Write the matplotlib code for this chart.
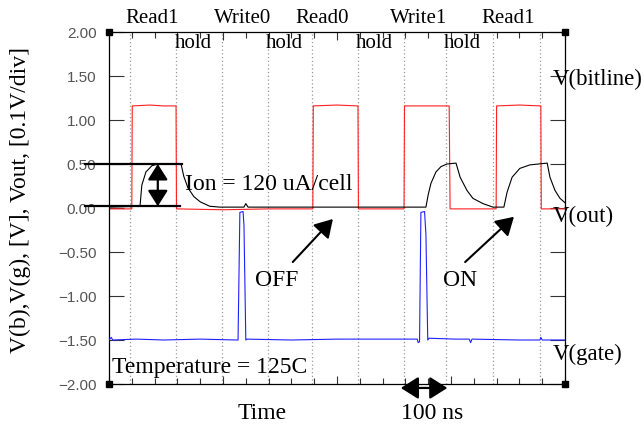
import matplotlib.pyplot as plt
from matplotlib.ticker import MultipleLocator

plt.rcParams['font.family'] = ['Liberation Serif', 'DejaVu Serif']

# bitline voltage (V) vs time (ns)
t_bitline = [0, 50, 51, 90, 120, 147, 148, 250, 350, 447, 448, 500, 546, 547,
             600, 647, 648, 700, 746, 748, 800, 849, 850, 900, 947, 948, 1000]
v_bitline = [-0.01, -0.01, 1.16, 1.17, 1.16, 1.16, -0.01, -0.02, -0.01, -0.01, 1.16, 1.17, 1.16, -0.01,
             -0.01, -0.01, 1.16, 1.16, 1.16, -0.01, -0.01, -0.01, 1.16, 1.17, 1.16, -0.01, -0.01]

# sense output
t_out = [0, 68, 72, 81, 94, 107, 158, 164, 173, 186, 200, 221, 243, 296, 300, 305,
         695, 700, 706, 717, 728, 741, 761, 770, 785, 798, 820, 842, 866,
         873, 884, 901, 923, 961, 967, 978, 989, 1000]
v_out = [0.01, 0.02, 0.26, 0.41, 0.48, 0.50, 0.50, 0.36, 0.23, 0.13, 0.07, 0.02, 0.01, 0.01, 0.05, 0.01,
         0.01, 0.15, 0.28, 0.41, 0.47, 0.50, 0.51, 0.35, 0.20, 0.11, 0.05, 0.01, 0.01,
         0.18, 0.35, 0.45, 0.49, 0.51, 0.35, 0.20, 0.11, 0.06]

# gate voltage
t_gate = [0, 5, 8, 60, 120, 200, 280, 283, 287, 294, 296, 300, 303, 400, 500, 600,
          676, 678, 681, 684, 692, 695, 699, 702, 760, 790, 793, 796, 900, 945, 947, 950, 1000]
v_gate = [-1.50, -1.47, -1.50, -1.49, -1.50, -1.49, -1.50, -1.50, -0.05, -0.04, -0.20, -1.50, -1.49, -1.50, -1.49, -1.49,
          -1.49, -1.53, -1.52, -0.05, -0.04, -0.30, -1.50, -1.48, -1.49, -1.49, -1.53, -1.49, -1.50, -1.50, -1.47, -1.50, -1.50]

# phase boundaries (ns)
t_phase = [46, 147, 248, 348, 445, 546, 647, 740, 842, 945]

phase_names = ['Read1', 'Write0', 'Read0', 'Write1', 'Read1']
phase_x = [94, 294, 467, 680, 875]
hold_x = [184, 384, 583, 774]

y_ticks = [-2.0, -1.5, -1.0, -0.5, 0.0, 0.5, 1.0, 1.5, 2.0]
y_tick_labels = ['\u22122.00', '\u22121.50', '\u22121.00', '\u22120.50', '0.00', '0.50', '1.00', '1.50', '2.00']

fig = plt.figure(figsize=(6.44, 4.28), dpi=100)
ax = fig.add_axes([109 / 644, 1 - 384 / 428, 456 / 644, 352 / 428])
ax.set_xlim(0, 1000)
ax.set_ylim(-2, 2)

for t in t_phase:
    ax.axvline(t, color='#999999', linestyle=(0, (1, 2)), linewidth=0.9, zorder=1)

ax.plot(t_out, v_out, color='black', linewidth=0.8, zorder=3)
ax.plot(t_bitline, v_bitline, color='#ff2020', linewidth=0.8, zorder=2)
ax.plot(t_gate, v_gate, color='#2020ff', linewidth=0.8, zorder=3)

# axes styling
ax.xaxis.set_major_locator(MultipleLocator(250))
ax.xaxis.set_minor_locator(MultipleLocator(50))
ax.tick_params(axis='x', which='both', direction='in', top=True, bottom=True,
               labelbottom=False, width=0.8, color='#333333')
ax.tick_params(axis='x', which='major', length=6)
ax.tick_params(axis='x', which='minor', length=4)
ax.set_yticks(y_ticks)
ax.set_yticklabels(y_tick_labels, family='Liberation Sans', fontsize=11, color='#555555')
ax.tick_params(axis='y', which='major', direction='in', left=True, right=True,
               length=11, width=0.8, pad=9, color='#333333')
for sp in ax.spines.values():
    sp.set_linewidth(0.9)

for cx, cy in [(0, 0), (0, 1), (1, 0), (1, 1)]:
    ax.plot(cx, cy, marker='s', markersize=5, color='black',
            transform=ax.transAxes, clip_on=False, zorder=5)

# phase labels along the top
for name, x in zip(phase_names, phase_x):
    ax.text(x, 2.102, name, ha='center', va='baseline', fontsize=15)
for x in hold_x:
    ax.text(x, 1.818, 'hold', ha='center', va='baseline', fontsize=15)

# signal names on the right
ax.text(974, 1.398, 'V(bitline)', ha='left', va='baseline', fontsize=16.5, clip_on=False)
ax.text(974, -0.159, 'V(out)', ha='left', va='baseline', fontsize=16.5, clip_on=False)
ax.text(974, -1.727, 'V(gate)', ha='left', va='baseline', fontsize=16.5, clip_on=False)

head_double = '<|-|>,head_length=0.6,head_width=0.38'
head_single = '-|>,head_length=0.6,head_width=0.36'

# Ion swing marker
ax.plot([-53, 160], [0.5, 0.5], color='black', linewidth=1.6, clip_on=False, zorder=4)
ax.plot([-53, 156], [0.02, 0.02], color='black', linewidth=1.6, clip_on=False, zorder=4)
ax.annotate('', xy=(107, 0.5), xytext=(107, 0.02),
            arrowprops=dict(arrowstyle=head_double, color='black', lw=1.6,
                            mutation_scale=16, shrinkA=0, shrinkB=0))
ax.text(167, 0.205, 'Ion = 120 uA/cell', ha='left', va='baseline', fontsize=17)

# OFF / ON pointers
ax.annotate('', xy=(491, -0.125), xytext=(403, -0.614),
            arrowprops=dict(arrowstyle=head_single, color='black', lw=1.5,
                            mutation_scale=18, shrinkA=0, shrinkB=0))
ax.text(320, -0.886, 'OFF', ha='left', va='baseline', fontsize=17)
ax.annotate('', xy=(888, -0.10), xytext=(781, -0.614),
            arrowprops=dict(arrowstyle=head_single, color='black', lw=1.5,
                            mutation_scale=18, shrinkA=0, shrinkB=0))
ax.text(732, -0.886, 'ON', ha='left', va='baseline', fontsize=17)

ax.text(7, -1.875, 'Temperature = 125C', ha='left', va='baseline', fontsize=17)

# time scale
ax.annotate('', xy=(640, -2.045), xytext=(742, -2.045), annotation_clip=False,
            arrowprops=dict(arrowstyle=head_double, color='black', lw=1.6,
                            mutation_scale=18, shrinkA=0, shrinkB=0))
ax.text(709, -2.398, '100 ns', ha='center', va='baseline', fontsize=17, clip_on=False)
ax.text(336, -2.398, 'Time', ha='center', va='baseline', fontsize=17, clip_on=False)

fig.text(20 / 644, 1 - 200 / 428, 'V(b),V(g), [V], Vout, [0.1V/div]',
         rotation=90, ha='center', va='center', fontsize=17)

fig.savefig('out.png', dpi=100)
